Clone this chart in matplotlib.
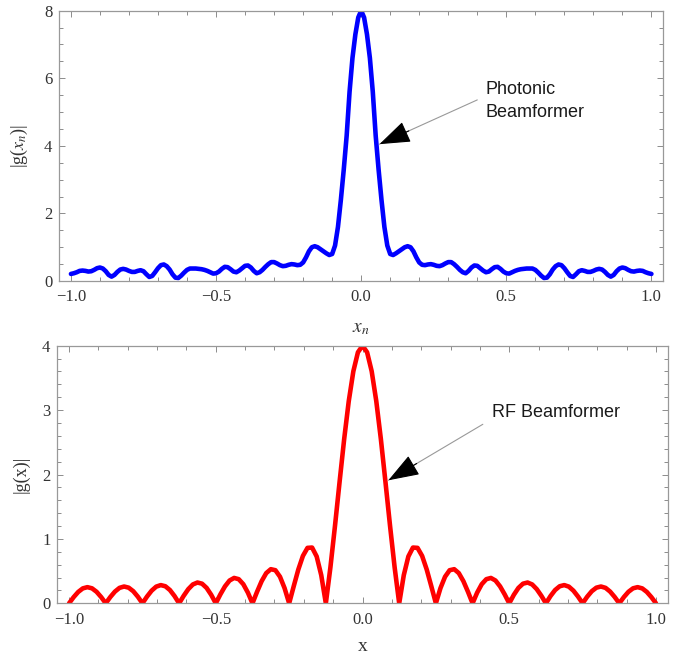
# beam pattern comparison: photonic vs RF beamformer
import numpy as np
import matplotlib.pyplot as plt

# photonic beamformer |g(x_n)|, read at x_n = 0.00, 0.01, ..., 1.00 (pattern is symmetric)
photonic_x = np.linspace(0.0, 1.0, 101)
photonic_g = [
    8.00, 7.80, 7.30, 6.60, 5.60, 4.30, 3.30, 2.40, 1.60, 1.05,
    0.80, 0.77, 0.82, 0.88, 0.94, 1.00, 1.03, 1.00, 0.88, 0.70,
    0.55, 0.48, 0.47, 0.49, 0.50, 0.48, 0.45, 0.44, 0.47, 0.52,
    0.56, 0.56, 0.50, 0.42, 0.33, 0.26, 0.23, 0.30, 0.40, 0.46,
    0.45, 0.38, 0.31, 0.26, 0.28, 0.35, 0.41, 0.42, 0.36, 0.28,
    0.23, 0.22, 0.26, 0.30, 0.33, 0.35, 0.36, 0.37, 0.37, 0.37,
    0.33, 0.25, 0.16, 0.09, 0.10, 0.20, 0.34, 0.44, 0.49, 0.47,
    0.38, 0.26, 0.15, 0.12, 0.20, 0.29, 0.32, 0.30, 0.27, 0.27,
    0.30, 0.34, 0.36, 0.34, 0.27, 0.18, 0.13, 0.18, 0.29, 0.37,
    0.40, 0.38, 0.33, 0.29, 0.28, 0.30, 0.31, 0.30, 0.26, 0.23,
    0.21,
]

# RF beamformer |g(x)|, read at x = 0, 1/64, ..., 1 (pattern is symmetric)
rf_x = np.linspace(0.0, 1.0, 65)
rf_g = [
    4.000, 3.898, 3.603, 3.140, 2.551, 1.887, 1.205, 0.560, 0.0,
    0.437, 0.728, 0.866, 0.861, 0.736, 0.525, 0.266, 0.0,
    0.236, 0.413, 0.514, 0.530, 0.469, 0.344, 0.179, 0.0,
    0.166, 0.297, 0.375, 0.394, 0.354, 0.263, 0.139, 0.0,
    0.132, 0.239, 0.305, 0.323, 0.293, 0.220, 0.117, 0.0,
    0.113, 0.206, 0.265, 0.283, 0.259, 0.196, 0.105, 0.0,
    0.103, 0.188, 0.243, 0.261, 0.240, 0.182, 0.098, 0.0,
    0.097, 0.179, 0.233, 0.251, 0.232, 0.177, 0.096, 0.0,
]

x_ticks = [-1.0, -0.5, 0.0, 0.5, 1.0]
x_tick_labels = ["\u22121.0", "\u22120.5", "0.0", "0.5", "1.0"]
top_y_ticks = [0, 2, 4, 6, 8]
bottom_y_ticks = [0, 1, 2, 3, 4]


def mirror(x, y):
    x = np.asarray(x)
    y = np.asarray(y)
    return np.concatenate([-x[:0:-1], x]), np.concatenate([y[:0:-1], y])


def style_axes(ax, yticks, yminor):
    ax.set_xlim(-1.04, 1.04)
    ax.set_ylim(yticks[0], yticks[-1])
    ax.set_xticks(x_ticks)
    ax.set_xticklabels(x_tick_labels)
    ax.set_xticks(np.arange(-1.0, 1.01, 0.1), minor=True)
    ax.set_yticks(yticks)
    ax.set_yticks(np.arange(yticks[0], yticks[-1] + 1e-9, yminor), minor=True)
    for s in ax.spines.values():
        s.set_color("0.6")
        s.set_linewidth(0.9)
    ax.tick_params(which="both", direction="in", top=True, right=True,
                   color="0.55", width=0.7, labelcolor="0.2",
                   labelsize=12)
    ax.tick_params(which="major", length=4.5)
    ax.tick_params(which="minor", length=2.8)
    ax.tick_params(axis="x", pad=6)
    ax.tick_params(axis="y", pad=5)
    for lab in ax.get_xticklabels() + ax.get_yticklabels():
        lab.set_family("Liberation Serif")


def pointer(ax, text_xy, tip, start, label, linespacing=1.0):
    ax.text(text_xy[0], text_xy[1], label, fontsize=13, family="Liberation Sans",
            color="0.1", ha="left", va="center", linespacing=linespacing)
    ax.annotate("", xy=tip, xytext=start,
                arrowprops=dict(arrowstyle="-", color="0.6", lw=0.8,
                                shrinkA=0, shrinkB=0))
    ax.annotate("", xy=tip, xytext=(tip[0] + 0.3 * (start[0] - tip[0]),
                                    tip[1] + 0.3 * (start[1] - tip[1])),
                arrowprops=dict(arrowstyle="-|>,head_length=1.4,head_width=0.5",
                                color="black", lw=0.8, mutation_scale=14,
                                shrinkA=0, shrinkB=0))


def main():
    plt.rcParams["mathtext.fontset"] = "stix"
    fig = plt.figure(figsize=(6.89, 6.56), dpi=100)

    ax1 = fig.add_axes([0.0861, 0.5716, 0.8762, 0.4121])
    bx, by = mirror(photonic_x, photonic_g)
    ax1.plot(bx, by, color="#0000ff", lw=3.3, solid_capstyle="round")
    style_axes(ax1, top_y_ticks, 0.5)
    ax1.set_ylabel(r"|g($x_n$)|", family="Liberation Serif", fontsize=13, color="0.2")
    ax1.yaxis.set_label_coords(-0.048, 0.5)
    ax1.set_xlabel(r"$x_n$", fontsize=14, color="0.2")
    ax1.xaxis.set_label_coords(0.5, -0.135)
    pointer(ax1, (0.43, 5.33), (0.063, 4.05), (0.40, 5.36),
            "Photonic\nBeamformer", linespacing=1.45)

    ax2 = fig.add_axes([0.0832, 0.0803, 0.8859, 0.3927])
    rx, ry = mirror(rf_x, rf_g)
    ax2.plot(rx, ry, color="#ff0000", lw=3.3, solid_capstyle="round")
    style_axes(ax2, bottom_y_ticks, 0.2)
    ax2.set_ylabel("|g(x)|", family="Liberation Serif", fontsize=13, color="0.2")
    ax2.yaxis.set_label_coords(-0.045, 0.5)
    ax2.set_xlabel("x", family="Liberation Serif", fontsize=14, color="0.2")
    ax2.xaxis.set_label_coords(0.5, -0.135)
    pointer(ax2, (0.44, 2.96), (0.088, 1.91), (0.41, 2.78), "RF Beamformer")

    fig.savefig("out.png", dpi=100)
    plt.close(fig)


if __name__ == "__main__":
    main()
